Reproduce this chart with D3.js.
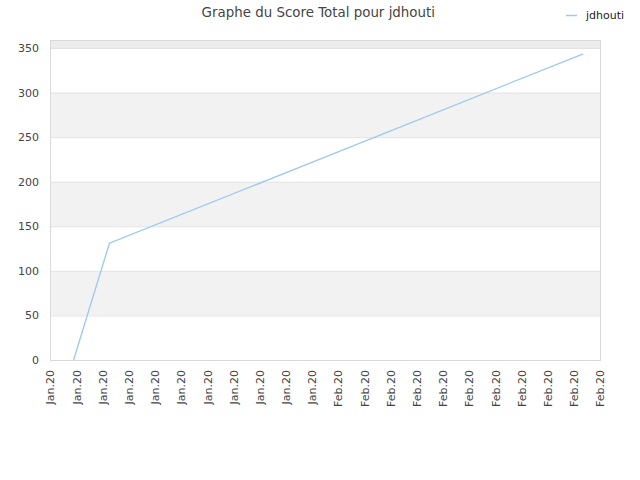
<!DOCTYPE html>
<html><head><meta charset="utf-8">
<script src="https://cdn.jsdelivr.net/npm/d3@7"></script>
<style>body{margin:0;background:#fff;font-family:"DejaVu Sans",sans-serif;}</style>
</head><body><svg id="c" width="640" height="480"></svg>
<script>
const tickLabels = ["Jan.20","Jan.20","Jan.20","Jan.20","Jan.20","Jan.20","Jan.20","Jan.20","Jan.20","Jan.20","Jan.20",
  "Feb.20","Feb.20","Feb.20","Feb.20","Feb.20","Feb.20","Feb.20","Feb.20","Feb.20","Feb.20","Feb.20"];
const seriesX = [0.9, 2.27, 20.36];
const seriesY = [0, 131, 343.5];
const yTicks = [0, 50, 100, 150, 200, 250, 300, 350];
const seriesName = "jdhouti";
const title = "Graphe du Score Total pour jdhouti";

const svg = d3.select("#c");
const L = 50, R = 600, T = 40, B = 360;
const x = d3.scaleLinear().domain([0, tickLabels.length - 1]).range([L, R]);
const y = d3.scaleLinear().domain([0, 359]).range([B, T]);

// bands
const bandEdges = yTicks.concat([359]);
for (let i = 0; i < bandEdges.length - 1; i++) {
  const y0 = bandEdges[i], y1 = bandEdges[i + 1];
  let fill = i % 2 === 1 ? "#f2f2f2" : "#ffffff";
  if (i === bandEdges.length - 2) fill = "#ececec";
  svg.append("rect").attr("x", L).attr("width", R - L)
    .attr("y", y(y1)).attr("height", y(y0) - y(y1)).attr("fill", fill);
}
// gridlines
svg.append("g").selectAll("line").data(yTicks.slice(1)).join("line")
  .attr("x1", L).attr("x2", R).attr("y1", d => y(d) + 0.5).attr("y2", d => y(d) + 0.5)
  .attr("stroke", "#e2e2e2").attr("stroke-width", 1);
// frame
svg.append("rect").attr("x", L + 0.5).attr("y", T + 0.5).attr("width", R - L).attr("height", B - T)
  .attr("fill", "none").attr("stroke", "#d9d9d9");

// y axis
const yAxis = d3.axisLeft(y).tickValues(yTicks).tickSize(0).tickPadding(11);
const gy = svg.append("g").attr("transform", `translate(${L},0)`).call(yAxis);
gy.select(".domain").remove();
gy.selectAll("text").attr("fill", "#444").style("font-size", "11px").style("font-family", "DejaVu Sans, sans-serif");

// x axis
const xAxis = d3.axisBottom(x).tickValues(d3.range(tickLabels.length)).tickFormat(i => tickLabels[i]).tickSize(0);
const gx = svg.append("g").attr("transform", `translate(0,${B})`).call(xAxis);
gx.select(".domain").remove();
gx.selectAll("text").attr("fill", "#444").style("font-size", "11px").style("font-family", "DejaVu Sans, sans-serif")
  .attr("transform", "rotate(-90)").attr("text-anchor", "end").attr("x", -10).attr("y", 0).attr("dy", "0.35em");

// line
const pts = seriesX.map((v, i) => [v, seriesY[i]]);
svg.append("path").datum(pts)
  .attr("d", d3.line().x(d => x(d[0])).y(d => y(d[1])))
  .attr("fill", "none").attr("stroke", "#99c8f5").attr("stroke-width", 1.3);

// title
svg.append("text").attr("x", 318.3).attr("y", 17).attr("text-anchor", "middle")
  .attr("fill", "#444").style("font-size", "13.4px").text(title);

// legend
svg.append("line").attr("x1", 566).attr("x2", 577).attr("y1", 15.5).attr("y2", 15.5)
  .attr("stroke", "#99c8f5").attr("stroke-width", 1.5);
svg.append("text").attr("x", 586).attr("y", 19).attr("fill", "#222")
  .style("font-size", "11px").text(seriesName);
</script></body></html>
